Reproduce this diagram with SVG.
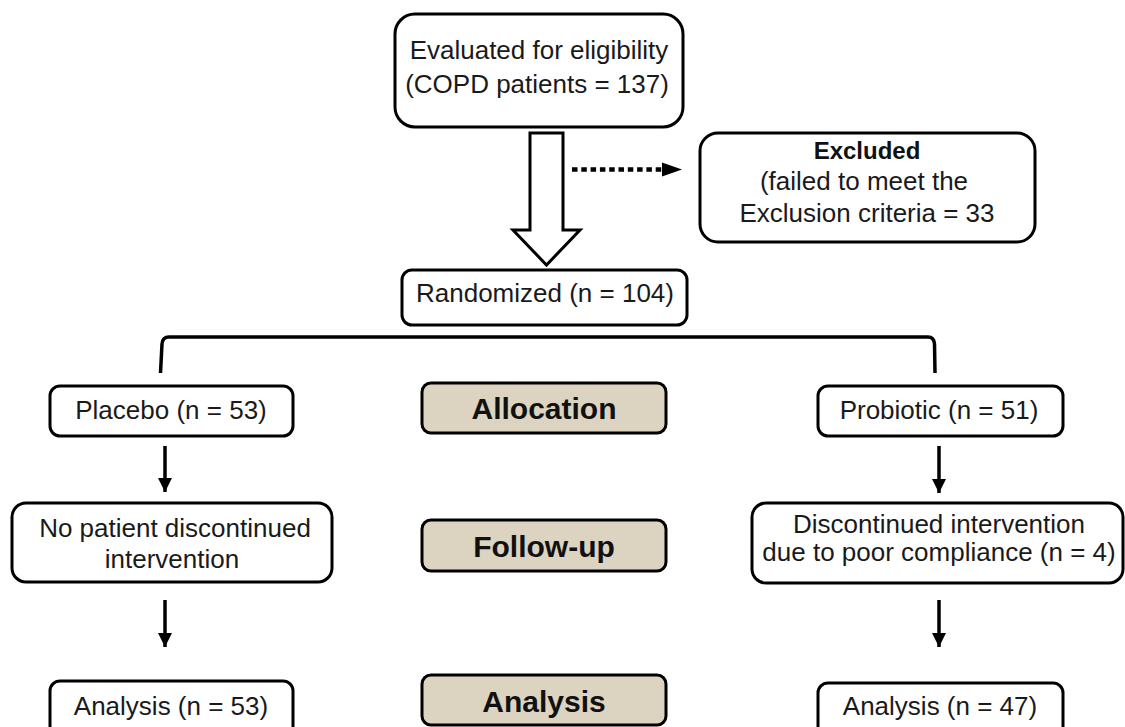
<svg xmlns="http://www.w3.org/2000/svg" width="1125" height="727" viewBox="0 0 1125 727">
<style>
.box{fill:#fff;stroke:#000;stroke-width:3}
.stage{fill:#dcd4c1;stroke:#000;stroke-width:3}
.t{font-family:"Liberation Sans",Arial,sans-serif;font-size:26px;fill:#1a1a1a;text-anchor:middle}
.b{font-family:"Liberation Sans",Arial,sans-serif;font-weight:bold;fill:#111;text-anchor:middle}
.ln{stroke:#000;stroke-width:3.5;fill:none}
</style>
<defs>
<marker id="ah" viewBox="0 0 10 10" refX="10" refY="5" markerWidth="4" markerHeight="4" markerUnits="strokeWidth" orient="auto">
<path d="M0,0 L10,5 L0,10 z" fill="#000"/>
</marker>
</defs>
<rect width="1125" height="727" fill="#fff"/>
<g id="connectors">
<polygon points="530,133 563,133 563,230 580,230 546.5,265 513,230 530,230" fill="#fff" stroke="#000" stroke-width="3" stroke-linejoin="miter"/>
<line x1="572" y1="169.5" x2="663" y2="169.5" stroke="#000" stroke-width="4.5" stroke-dasharray="5.5 3.8"/>
<polygon points="662,162.5 682,169.5 662,176.5" fill="#000"/>
<path d="M160.5,373 L162,344 Q162.5,337 169,337 L928,337 Q934,337 934.5,344 L935,373" class="ln" stroke-width="3"/>
<line x1="165" y1="446" x2="165" y2="492" class="ln" marker-end="url(#ah)"/>
<line x1="165" y1="600" x2="165" y2="647" class="ln" marker-end="url(#ah)"/>
<line x1="939" y1="446" x2="939" y2="493" class="ln" marker-end="url(#ah)"/>
<line x1="939" y1="600" x2="939" y2="647" class="ln" marker-end="url(#ah)"/>
</g>
<g id="evaluated">
<rect class="box" x="395" y="14" width="288" height="113" rx="20"/>
<text class="t" x="539" y="59">Evaluated for eligibility</text>
<text class="t" x="537" y="93">(COPD patients = 137)</text>
</g>
<g id="excluded">
<rect class="box" x="700" y="133" width="335" height="109" rx="18"/>
<text class="b" x="867" y="159" font-size="24">Excluded</text>
<text class="t" x="864" y="190">(failed to meet the</text>
<text class="t" x="867" y="222">Exclusion criteria = 33</text>
</g>
<g id="randomized">
<rect class="box" x="402" y="270" width="285" height="55" rx="10"/>
<text class="t" x="545" y="302">Randomized (n = 104)</text>
</g>
<g id="placebo">
<rect class="box" x="50" y="386" width="243" height="50" rx="10"/>
<text class="t" x="171" y="419">Placebo (n = 53)</text>
</g>
<g id="allocation">
<rect class="stage" x="422" y="383" width="244" height="50" rx="9"/>
<text class="b" x="544" y="419" font-size="30">Allocation</text>
</g>
<g id="probiotic">
<rect class="box" x="818" y="386" width="245" height="50" rx="10"/>
<text class="t" x="939" y="419">Probiotic (n = 51)</text>
</g>
<g id="no-discontinued">
<rect class="box" x="12" y="503" width="320" height="79" rx="14"/>
<text class="t" x="175" y="537">No patient discontinued</text>
<text class="t" x="172" y="568">intervention</text>
</g>
<g id="followup">
<rect class="stage" x="422" y="520" width="244" height="51" rx="9"/>
<text class="b" x="544" y="557" font-size="30">Follow-up</text>
</g>
<g id="discontinued">
<rect class="box" x="752" y="503" width="371" height="80" rx="14"/>
<text class="t" x="939" y="533">Discontinued intervention</text>
<text class="t" x="939" y="561">due to poor compliance (n = 4)</text>
</g>
<g id="analysis-placebo">
<rect class="box" x="50" y="681" width="243" height="60" rx="10"/>
<text class="t" x="171" y="715">Analysis (n = 53)</text>
</g>
<g id="analysis">
<rect class="stage" x="422" y="675" width="244" height="50" rx="9"/>
<text class="b" x="544" y="712" font-size="30">Analysis</text>
</g>
<g id="analysis-probiotic">
<rect class="box" x="818" y="683" width="245" height="60" rx="10"/>
<text class="t" x="940" y="715">Analysis (n = 47)</text>
</g>
</svg>
